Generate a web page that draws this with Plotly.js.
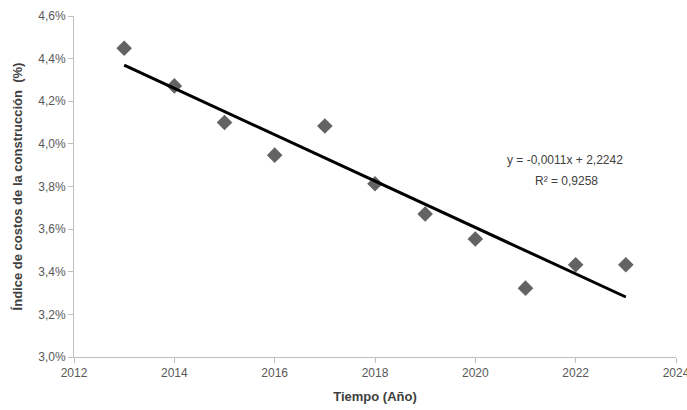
<!DOCTYPE html>
<html>
<head>
<meta charset="utf-8">
<script src="https://cdn.plot.ly/plotly-3.0.1.min.js"></script>
<style>html,body{margin:0;padding:0;background:#fff;}#chart{width:687px;height:410px;}</style>
</head>
<body>
<div id="chart"></div>
<script>
// Data (year, construction cost index in %)
const years = [2013, 2014, 2015, 2016, 2017, 2018, 2019, 2020, 2021, 2022, 2023];
const indexPct = [4.449, 4.272, 4.100, 3.947, 4.084, 3.813, 3.671, 3.554, 3.323, 3.433, 3.433];
const equationLabel = "y = -0,0011x + 2,2242";
const r2Label = "R² = 0,9258";
const xTicks = [2012, 2014, 2016, 2018, 2020, 2022, 2024];
const yTicks = [3.0, 3.2, 3.4, 3.6, 3.8, 4.0, 4.2, 4.4, 4.6];
const yTickText = ["3,0%", "3,2%", "3,4%", "3,6%", "3,8%", "4,0%", "4,2%", "4,4%", "4,6%"];

// Least-squares linear trend
const n = years.length;
const mx = years.reduce((a, b) => a + b, 0) / n;
const my = indexPct.reduce((a, b) => a + b, 0) / n;
let sxy = 0, sxx = 0;
for (let i = 0; i < n; i++) { sxy += (years[i] - mx) * (indexPct[i] - my); sxx += (years[i] - mx) ** 2; }
const slope = sxy / sxx, intercept = my - slope * mx;
const trendX = [years[0], years[n - 1]];
const trendY = trendX.map(x => intercept + slope * x);

const FAM = "Liberation Sans, Arial, sans-serif";
const tickFont = {family: FAM, size: 12, color: "#595959"};
const titleFont = {family: FAM, size: 13, color: "#404040", weight: "bold"};

const data = [
  {x: years, y: indexPct, type: "scatter", mode: "markers",
   marker: {symbol: "diamond", size: 12, color: "#636363"}, hoverinfo: "x+y"},
  {x: trendX, y: trendY, type: "scatter", mode: "lines",
   line: {color: "#000000", width: 3}, hoverinfo: "skip"}
];

const ML = 74, MR = 11, MT = 16, MB = 53;
const layout = {
  width: 687, height: 410,
  margin: {l: ML, r: MR, t: MT, b: MB},
  paper_bgcolor: "#fff", plot_bgcolor: "#fff",
  showlegend: false,
  xaxis: {
    range: [2012, 2024], tickvals: xTicks, ticktext: xTicks.map(String),
    showgrid: false, zeroline: false, showline: true, linecolor: "#bfbfbf", linewidth: 1,
    ticks: "outside", ticklen: 5, tickcolor: "#bfbfbf", tickfont: tickFont,
    ticklabeloverflow: "allow",
    title: {text: "Tiempo (Año)", font: titleFont, standoff: 12}
  },
  yaxis: {
    range: [3.0, 4.6], tickvals: yTicks, ticktext: yTickText,
    showgrid: false, zeroline: false, showline: true, linecolor: "#bfbfbf", linewidth: 1,
    ticks: "outside", ticklen: 5, tickcolor: "#bfbfbf", tickfont: tickFont,
    title: {text: "Índice de costos de la construcción  (%)", font: titleFont, standoff: 12}
  },
  annotations: [
    {x: 565, y: 160, text: equationLabel},
    {x: 566, y: 181, text: r2Label}
  ].map(a => Object.assign(a, {
    xref: "paper", yref: "paper", showarrow: false, xanchor: "center", yanchor: "middle",
    font: {family: FAM, size: 12, color: "#404040"}
  }))
};
// convert annotation pixel positions to paper coords
const pw = 687 - ML - MR, ph = 410 - MT - MB;
layout.annotations.forEach(a => { a.x = (a.x - ML) / pw; a.y = 1 - (a.y - MT) / ph; });

Plotly.newPlot("chart", data, layout, {displayModeBar: false, staticPlot: true});
</script>
</body>
</html>
